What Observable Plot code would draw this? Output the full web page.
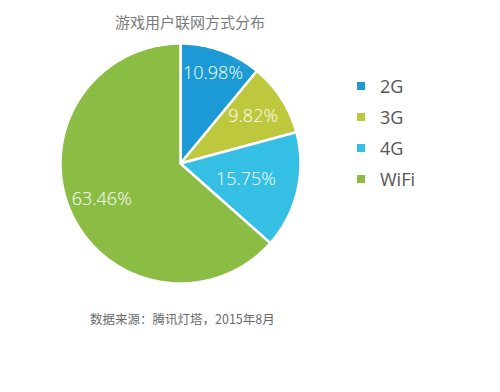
<!DOCTYPE html>
<html>
<head>
<meta charset="utf-8">
<script src="https://cdn.jsdelivr.net/npm/d3@7"></script>
<script src="https://cdn.jsdelivr.net/npm/@observablehq/plot@0.6"></script>
<style>
  html, body { margin: 0; padding: 0; background: #fff; }
  #wrap { position: relative; width: 500px; height: 392px; overflow: hidden; font-family: "Open Sans", "Noto Sans CJK SC", sans-serif; }
  #title { position: absolute; left: 0; top: 11px; width: 380px; text-align: center; font-family: "Noto Sans CJK SC", sans-serif; font-size: 15px; color: #7a7a7a; }
  #chart { position: absolute; left: 0; top: 40px; }
  #legend { position: absolute; left: 357px; top: 74px; }
  #caption { position: absolute; left: 90px; top: 309px; font-family: "Noto Sans CJK SC", sans-serif; font-size: 12.5px; color: #6a6a6a; }
  #legend div { font-size: 18px !important; color: #555 !important; line-height: 24px !important; }
  #legend .lg-swatch { margin-bottom: 6px !important; }
  #legend .lg-swatch svg { margin-right: 15px !important; }
</style>
</head>
<body>
<div id="wrap">
  <div id="title"></div>
  <div id="chart"></div>
  <div id="legend"></div>
  <div id="caption"></div>
</div>
<script>
const titleText = "游戏用户联网方式分布";
const captionText = "数据来源：腾讯灯塔，2015年8月";
const categories = ["2G", "3G", "4G", "WiFi"];
const shares = [10.98, 9.82, 15.75, 63.46];
const colors = ["#1b9ad6", "#bec83c", "#36bfe4", "#8bbd44"];
// label placement (fraction of radius), styling only
const labelRadius = {"2G": 0.8, "3G": 0.72, "4G": 0.56, "WiFi": 0.72};

document.getElementById("title").textContent = titleText;
document.getElementById("caption").textContent = captionText;

const pie = d3.pie().sort(null).value(d => d.v)(categories.map((c, i) => ({name: c, v: shares[i]})));

const poly = [];
const labels = [];
for (const s of pie) {
  const name = s.data.name;
  const n = Math.max(2, Math.ceil((s.endAngle - s.startAngle) / 0.01));
  poly.push({name, x: 0, y: 0});
  for (let k = 0; k <= n; k++) {
    const a = s.startAngle + (s.endAngle - s.startAngle) * k / n;
    poly.push({name, x: Math.sin(a), y: Math.cos(a)});
  }
  poly.push({name, x: 0, y: 0});
  const m = (s.startAngle + s.endAngle) / 2;
  const r = labelRadius[name];
  labels.push({name, x: r * Math.sin(m), y: r * Math.cos(m), text: (s.data.v).toFixed(2) + "%"});
}

// pixel mapping: center (180, 123) in a 500x260 svg, radius 120
const W = 500, H = 260, cx = 180, cy = 123, R = 120;
const chart = Plot.plot({
  width: W,
  height: H,
  margin: 0,
  x: {domain: [-cx / R, (W - cx) / R], axis: null},
  y: {domain: [-(H - cy) / R, cy / R], axis: null},
  color: {domain: categories, range: colors},
  style: {background: "transparent"},
  marks: [
    Plot.line(poly, {x: "x", y: "y", z: "name", fill: "name", stroke: "white", strokeWidth: 2.5, strokeLinejoin: "round", curve: "linear"}),
    Plot.text(labels, {x: "x", y: "y", text: "text", fill: "white", fontSize: 18, fontWeight: 300, fontFamily: "'Open Sans', 'Segoe UI', sans-serif"})
  ]
});
document.getElementById("chart").appendChild(chart);

const leg = Plot.legend({
  color: {domain: categories, range: colors},
  legend: "swatches",
  className: "lg",
  columns: 1,
  swatchSize: 8,
  style: {fontSize: "18px", color: "#555", fontFamily: "'Open Sans', sans-serif"}
});
document.getElementById("legend").appendChild(leg);
</script>
</body>
</html>
